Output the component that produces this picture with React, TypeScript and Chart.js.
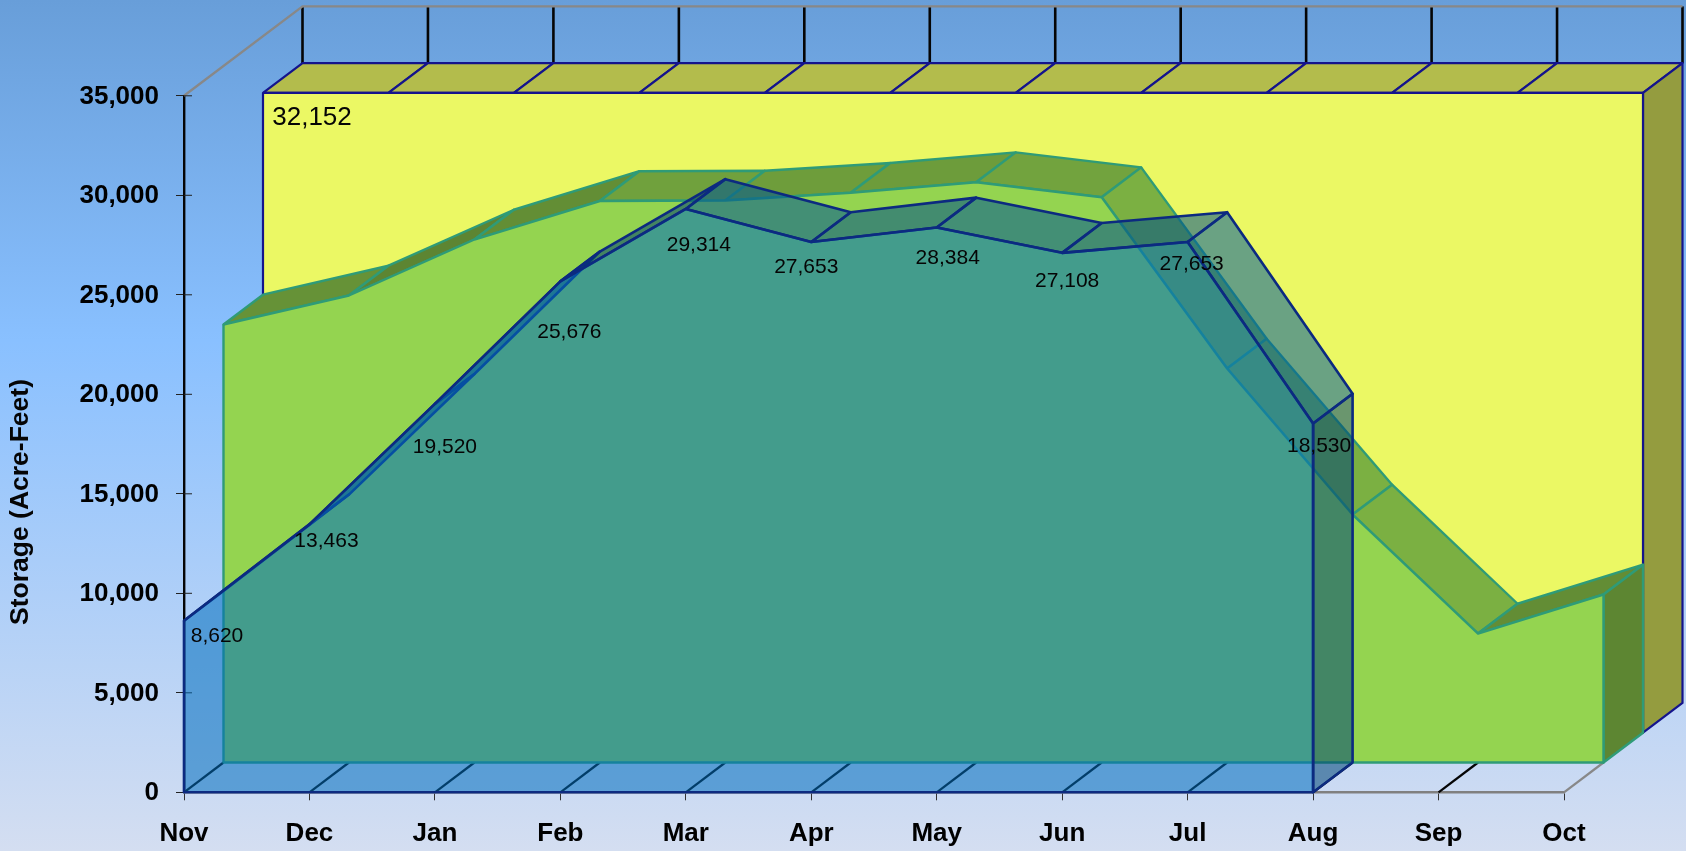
import React, { useEffect, useRef } from "react";
import { Chart, registerables } from "chart.js";

const months = ["Nov", "Dec", "Jan", "Feb", "Mar", "Apr", "May", "Jun", "Jul", "Aug", "Sep", "Oct"];
const actualStorage = [8620, 13463, 19520, 25676, 29314, 27653, 28384, 27108, 27653, 18530, null, null];
const typicalStorage = [22010, 23467, 26280, 28216, 28240, 28628, 29160, 28407, 19800, 12462, 6480, 8442];
const capacityStorage = [32152, 32152, 32152, 32152, 32152, 32152, 32152, 32152, 32152, 32152, 32152, 32152];
const axisTitle = "Storage (Acre-Feet)";
const capacityLabel = "32,152";

// presentation only
const DX = 39.5;
const DY = -29.8;
const FONT = '"Liberation Sans", Arial, sans-serif';
const actualLabelNudge = [
  [33, 15], [17, 17], [10, 43], [9, 51], [13, 36], [-5, 25], [11, 31], [5, 28], [4, 22], [6, 23],
];
const seriesStyle = [
  { depth: 0, rgb: [0, 110, 189], alpha: 0.55, edge: "#0c2a80", width: 2.6 },
  { depth: 1, rgb: [148, 212, 80], alpha: 1, edge: "#2f9b77", width: 2.4 },
  { depth: 2, rgb: [235, 248, 100], alpha: 1, edge: "#14148c", width: 2.2 },
];

const colour = (s: any, f: number) =>
  `rgba(${s.rgb[0] * f},${s.rgb[1] * f},${s.rgb[2] * f},${s.alpha})`;

const segShade = (slope: number) =>
  slope >= 0 ? Math.max(0.6, 0.76 - 0.3 * slope) : Math.min(0.83, 0.76 + 0.08 * -slope);

function poly(ctx: CanvasRenderingContext2D, pts: number[][], fill: string | null, stroke: string | null, w = 2) {
  ctx.beginPath();
  pts.forEach((p, i) => (i ? ctx.lineTo(p[0], p[1]) : ctx.moveTo(p[0], p[1])));
  if (fill) {
    ctx.closePath();
    ctx.fillStyle = fill;
    ctx.fill();
  }
  if (stroke) {
    ctx.strokeStyle = stroke;
    ctx.lineWidth = w;
    ctx.lineJoin = "round";
    ctx.stroke();
  }
}

const depthPlugin = {
  id: "depth3d",
  beforeDraw(chart: any) {
    const { ctx, width, height } = chart;
    const g = ctx.createLinearGradient(0, 0, 0, height);
    g.addColorStop(0, "#689ed9");
    g.addColorStop(0.4, "#89c0ff");
    g.addColorStop(1, "#d4deF1");
    ctx.fillStyle = g;
    ctx.fillRect(0, 0, width, height);
  },
  beforeDatasetsDraw(chart: any) {
    const { ctx, scales } = chart;
    const { x, y } = scales;
    const y0 = y.getPixelForValue(0);
    const yTop = y.getPixelForValue(35000);
    const yCap = y.getPixelForValue(capacityStorage[0]);
    ctx.save();
    // back wall lines above the capacity block
    months.forEach((_, i) => {
      const px = x.getPixelForValue(i);
      poly(ctx, [[px + 3 * DX, yTop + 3 * DY], [px + 3 * DX, yCap + 3 * DY]], null, "#050505", 2.6);
      // floor lines
      poly(ctx, [[px, y0], [px + DX, y0 + DY]], null, i === months.length - 1 ? "#888888" : "#050505", 2.2);
    });
    // open outer frame
    const xl = x.getPixelForValue(0);
    const xr = x.getPixelForValue(months.length - 1);
    poly(ctx, [[xl, yTop], [xl + 3 * DX, yTop + 3 * DY], [xr + 3 * DX, yTop + 3 * DY]], null, "#888888", 2.4);
    // right half of the value ticks
    y.ticks.forEach((t: any) => {
      const py = y.getPixelForValue(t.value);
      poly(ctx, [[xl, py], [xl + 8, py]], null, "#222222", 1);
    });
    ctx.restore();
  },
  beforeDatasetDraw(chart: any, args: any) {
    const { ctx, scales } = chart;
    const { x, y } = scales;
    const style = seriesStyle[args.index];
    const values = chart.data.datasets[args.index].data as (number | null)[];
    const off = style.depth;
    const ox = off * DX;
    const oy = off * DY;
    const y0 = y.getPixelForValue(0);
    const idx = values.map((v, i) => (v == null ? -1 : i)).filter((i) => i >= 0);
    ctx.save();
    for (let k = 0; k < idx.length - 1; k++) {
      const a = idx[k];
      const b = idx[k + 1];
      const ax = x.getPixelForValue(a) + ox;
      const ay = y.getPixelForValue(values[a]) + oy;
      const bx = x.getPixelForValue(b) + ox;
      const by = y.getPixelForValue(values[b]) + oy;
      const slope = (ay - by) / (bx - ax);
      poly(
        ctx,
        [[ax, ay], [bx, by], [bx + DX, by + DY], [ax + DX, ay + DY], [ax, ay]],
        colour(style, segShade(slope)),
        style.edge,
        style.width,
      );
    }
    const last = idx[idx.length - 1];
    const lx = x.getPixelForValue(last) + ox;
    const ly = y.getPixelForValue(values[last]) + oy;
    poly(
      ctx,
      [[lx, ly], [lx + DX, ly + DY], [lx + DX, y0 + oy + DY], [lx, y0 + oy], [lx, ly]],
      colour(style, 0.63),
      style.edge,
      style.width,
    );
    ctx.translate(ox, oy);
  },
  afterDatasetDraw(chart: any, args: any) {
    const { ctx, scales } = chart;
    const { x, y } = scales;
    const style = seriesStyle[args.index];
    const values = chart.data.datasets[args.index].data as (number | null)[];
    const y0 = y.getPixelForValue(0);
    const idx = values.map((v, i) => (v == null ? -1 : i)).filter((i) => i >= 0);
    const a = idx[0];
    const b = idx[idx.length - 1];
    const ax = x.getPixelForValue(a);
    const bx = x.getPixelForValue(b);
    poly(
      ctx,
      [[ax, y.getPixelForValue(values[a])], [ax, y0], [bx, y0], [bx, y.getPixelForValue(values[b])]],
      null,
      style.edge,
      style.width,
    );
    ctx.restore();
  },
  afterDatasetsDraw(chart: any) {
    const { ctx, scales } = chart;
    const { x, y } = scales;
    ctx.save();
    ctx.fillStyle = "#050505";
    ctx.textAlign = "center";
    ctx.textBaseline = "middle";
    ctx.font = `21px ${FONT}`;
    actualStorage.forEach((v, i) => {
      if (v == null) return;
      const [nx, ny] = actualLabelNudge[i];
      ctx.fillText(v.toLocaleString("en-US"), x.getPixelForValue(i) + nx, y.getPixelForValue(v) + ny);
    });
    ctx.font = `26px ${FONT}`;
    ctx.fillText(
      capacityLabel,
      x.getPixelForValue(0) + 2 * DX + 49,
      y.getPixelForValue(capacityStorage[0]) + 2 * DY + 25,
    );
    ctx.translate(21, 502);
    ctx.rotate(-Math.PI / 2);
    ctx.font = `bold 26.5px ${FONT}`;
    ctx.fillText(axisTitle, 0, 0);
    ctx.restore();
  },
};

// the depth plugin has to run ahead of the Filler so that fills are shifted too
Chart.register(depthPlugin as any);
Chart.register(...registerables);

export default function App() {
  const ref = useRef<HTMLCanvasElement | null>(null);
  useEffect(() => {
    if (!ref.current) return;
    const chart: any = new Chart(ref.current, {
      type: "line",
      data: {
        labels: months,
        datasets: [actualStorage, typicalStorage, capacityStorage].map((data, i) => ({
          data,
          label: ["Actual", "Typical", "Capacity"][i],
          fill: "origin",
          tension: 0,
          spanGaps: false,
          clip: false,
          pointRadius: 0,
          borderWidth: seriesStyle[i].width,
          borderJoinStyle: "round",
          borderColor: seriesStyle[i].edge,
          backgroundColor: colour(seriesStyle[i], 1),
        })),
      } as any,
      options: {
        animation: false,
        responsive: false,
        devicePixelRatio: 1,
        layout: { padding: { top: 95.8, right: 122, left: 0, bottom: 0 } },
        plugins: { legend: { display: false }, tooltip: { enabled: false }, title: { display: false } },
        scales: {
          x: {
            type: "category",
            offset: false,
            afterFit: (s: any) => { s.height = 58.7; },
            grid: { drawOnChartArea: false, drawTicks: true, tickLength: 8, tickColor: "#333333", tickWidth: 1 },
            border: { color: "#808080", width: 2.4 },
            ticks: {
              autoSkip: false, maxRotation: 0, minRotation: 0, padding: 18,
              color: "#000000", font: { family: FONT, size: 26, weight: "bold" },
            },
          },
          y: {
            min: 0,
            max: 35000,
            afterFit: (s: any) => { s.width = 184; },
            grid: { drawOnChartArea: false, drawTicks: true, tickLength: 8, tickColor: "#222222", tickWidth: 1 },
            border: { color: "#050505", width: 2.4 },
            ticks: {
              stepSize: 5000, padding: 17, labelOffset: 1, color: "#000000",
              font: { family: FONT, size: 26, weight: "bold" },
              callback: (v: any) => Number(v).toLocaleString("en-US"),
            },
          },
        },
      } as any,
    });
    return () => chart.destroy();
  }, []);
  return (
    <div style={{ position: "fixed", left: 0, top: 0, width: 1686, height: 851, overflow: "hidden" }}>
      <canvas ref={ref} width={1686} height={851} style={{ display: "block" }} />
    </div>
  );
}
